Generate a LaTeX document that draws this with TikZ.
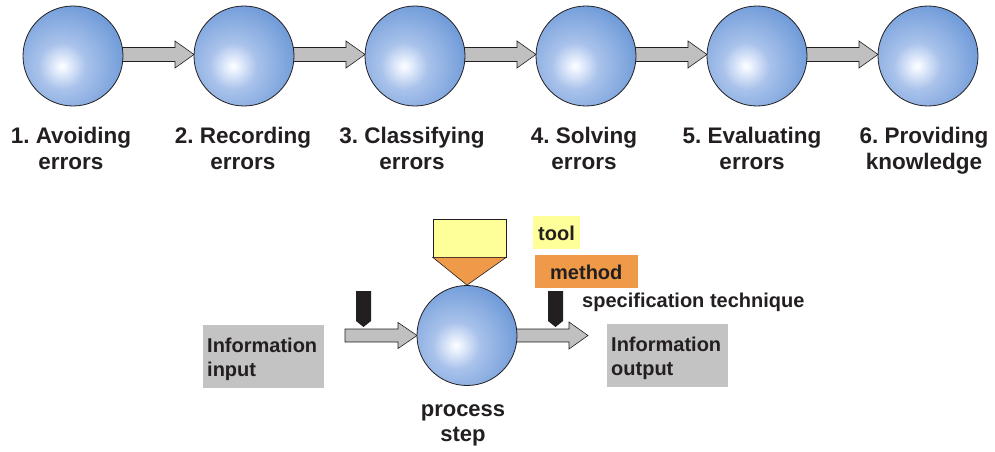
\documentclass[tikz,border=0pt]{standalone}
\usepackage{fontspec}
\setmainfont{Liberation Sans}
\usetikzlibrary{calc}
\frenchspacing

\definecolor{ink}{HTML}{231F20}
\definecolor{shaftgray}{HTML}{C0C0C0}
\definecolor{boxgray}{HTML}{C3C3C3}
\definecolor{toolyellow}{HTML}{FFFF99}
\definecolor{methodorange}{HTML}{EE9A48}

% centred glow, placed off-centre inside each sphere
\pgfdeclareradialshading{glow}{\pgfpointorigin}{%
  rgb(0bp)=(1,1,1);
  rgb(1.5bp)=(0.94,0.96,1);
  rgb(9bp)=(0.66,0.76,0.92);
  rgb(24bp)=(0.44,0.61,0.85);
  rgb(40bp)=(0.30,0.50,0.78);
  rgb(50bp)=(0.26,0.45,0.74)}

\tikzset{
  ball/.style={circle, minimum size=100pt, inner sep=0pt, draw=ink,
    line width=0.8pt},
  fatarrow/.style={fill=shaftgray, draw=ink, line width=0.6pt, line join=miter},
  steplabel/.style={font=\bfseries\fontsize{22.5}{26}\selectfont, text=ink,
    align=center, inner sep=0pt},
  infobox/.style={fill=boxgray, inner sep=0pt},
  boxtext/.style={font=\bfseries\fontsize{20}{23}\selectfont, text=ink,
    inner sep=0pt, anchor=base west},
  marker/.style={fill=ink, draw=none},
}

% block arrow from the point #1 to the tip #2 (horizontal)
\newcommand{\blockarrow}[4]{% from, tip, shaft half height, head half height
  \path[fatarrow] let \p1=(#1), \p2=(#2) in
    (\x1,\y2+#3) -- (\x2-19pt,\y2+#3) -- (\x2-19pt,\y2+#4) -- (\x2,\y2)
    -- (\x2-19pt,\y2-#4) -- (\x2-19pt,\y2-#3) -- (\x1,\y2-#3) -- cycle;}

% shaded sphere node #1 centred on coordinate #2
\newcommand{\sphere}[2]{%
  \begin{scope}
    \clip (#2) circle (50);
    \path[shading=glow] ($(#2)+(-11,10)$) circle (66);
  \end{scope}
  \node[ball] (#1) at (#2) {};}

% black pointer above an arrow, top left corner #1
\newcommand{\pointer}[1]{%
  \path[marker] let \p1=(#1) in
    (\x1,\y1) -- (\x1+15pt,\y1) -- (\x1+15pt,\y1-30pt) -- (\x1+7.5pt,\y1-36pt)
    -- (\x1,\y1-30pt) -- cycle;}

\begin{document}
\begin{tikzpicture}[x=1pt, y=-1pt]
\useasboundingbox (0,0) rectangle (995,452);

% ---- the six steps ----
\foreach \i/\x in {1/73, 2/244, 3/415, 4/586, 5/757, 6/928}
  \coordinate (p\i) at (\x,56);

\foreach \a/\b in {1/2, 2/3, 3/4, 4/5, 5/6}
  \blockarrow{p\a}{$(p\b)+(-50,-1.5)$}{7pt}{13.5pt};

\foreach \i in {1,...,6}
  {\sphere{s\i}{p\i}}

\node[steplabel, anchor=base] (l1) at (71,169) {1. Avoiding\\errors};
\node[steplabel, anchor=base] (l2) at (243,169) {2. Recording\\errors};
\node[steplabel, anchor=base] (l3) at (412,169) {3. Classifying\\errors};
\node[steplabel, anchor=base] (l4) at (584,169) {4. Solving\\errors};
\node[steplabel, anchor=base] (l5) at (752,169) {5. Evaluating\\errors};
\node[steplabel, anchor=base] (l6) at (924,169) {6. Providing\\knowledge};

% ---- legend of a single process step ----
\coordinate (instart) at (345,335.5);
\coordinate (outtip) at (588,335.5);
\coordinate (pc) at (467,335.5);

\blockarrow{instart}{$(pc)+(-50,0)$}{6.5pt}{13pt};
\blockarrow{pc}{outtip}{6.5pt}{13.5pt};

\sphere{proc}{pc}

% tool with its method funnel
\node[fill=toolyellow, draw=ink, line width=0.6pt, minimum width=73pt,
  minimum height=38pt, inner sep=0pt] (tool) at (469.5,238) {};
\path[fill=methodorange, draw=ink, line width=0.6pt]
  (tool.south west) -- (tool.south east) -- (proc.north) -- cycle;

\pointer{356,291}
\pointer{548,291}

\node[fill=toolyellow, minimum width=47pt, minimum height=33pt, inner sep=0pt]
  (toolkey) at (556.5,232.5) {};
\node[boxtext] (tooltxt) at (538,240) {tool};
\node[fill=methodorange, minimum width=103pt, minimum height=33pt, inner sep=0pt]
  (methodkey) at (586.5,271.5) {};
\node[boxtext] (methodtxt) at (550,279) {method};

\node[boxtext] (spec) at (582,307) {specification technique};

\node[infobox, minimum width=121pt, minimum height=63pt] (inbox) at (263.5,356.5) {};
\node[boxtext] (in1) at (207,352) {Information};
\node[boxtext] (in2) at (207,376) {input};

\node[infobox, minimum width=121pt, minimum height=63pt] (outbox) at (667.5,355.5) {};
\node[boxtext] (out1) at (611,351) {Information};
\node[boxtext] (out2) at (611,375) {output};

\node[steplabel, anchor=base, font=\bfseries\fontsize{22}{25}\selectfont]
  (proclabel) at (463,441) {process\\step};
\end{tikzpicture}
\end{document}
